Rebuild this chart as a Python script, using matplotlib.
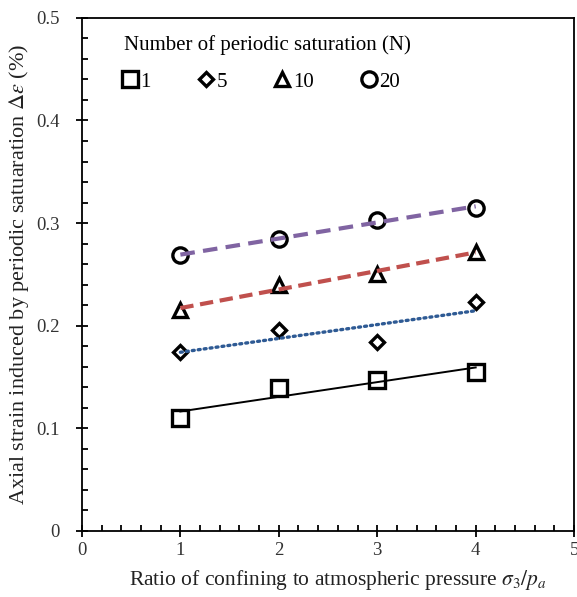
import numpy as np
import matplotlib
matplotlib.use("Agg")
import matplotlib.pyplot as plt
from matplotlib.ticker import MultipleLocator
from matplotlib.lines import Line2D

plt.rcParams['font.family'] = ['Liberation Serif', 'DejaVu Serif']
plt.rcParams['mathtext.fontset'] = 'stix'

# Confining pressure ratio sigma3/pa
pressure_ratio = [1, 2, 3, 4]

# Number of periodic saturation cycles
cycle_labels = ['1', '5', '10', '20']

# Axial strain (%) for each cycle count
strain_n1 = [0.110, 0.139, 0.147, 0.155]
strain_n5 = [0.174, 0.196, 0.184, 0.223]
strain_n10 = [0.215, 0.240, 0.250, 0.272]
strain_n20 = [0.269, 0.284, 0.303, 0.315]

series = [strain_n1, strain_n5, strain_n10, strain_n20]
markers = ['s', 'D', '^', 'o']
marker_sizes = [11, 7.5, 10, 11]
trend_styles = [
    dict(color='black', lw=1.4, ls='-'),
    dict(color='#2E5A94', lw=2.4, ls=(0, (0.6, 1.2)), dash_capstyle='round'),
    dict(color='#C0504D', lw=3.0, ls=(0, (3.2, 1.6))),
    dict(color='#8064A2', lw=3.0, ls=(0, (3.5, 2.0))),
]

fig = plt.figure(figsize=(5.77, 5.97), dpi=100)
ax = fig.add_axes([0.142, 0.111, 0.853, 0.859])

x = np.array(pressure_ratio, dtype=float)
handles = []
for vals, mk, ms, st, lab in zip(series, markers, marker_sizes, trend_styles, cycle_labels):
    y = np.array(vals)
    ax.plot(x, y, ls='none', marker=mk, ms=ms, mfc='white', mec='black',
            mew=2.4, zorder=3)
    slope, icpt = np.polyfit(x, y, 1)
    xs = np.array([x.min(), x.max()])
    ax.plot(xs, slope * xs + icpt, zorder=4, **st)
    handles.append(Line2D([], [], ls='none', marker=mk, ms=ms, mfc='white',
                          mec='black', mew=2.4, label=lab))

ax.set_xlim(0, 5)
ax.set_ylim(0, 0.5)
ax.xaxis.set_major_locator(MultipleLocator(1))
ax.xaxis.set_minor_locator(MultipleLocator(0.2))
ax.yaxis.set_major_locator(MultipleLocator(0.1))
ax.yaxis.set_minor_locator(MultipleLocator(0.02))
ax.set_yticks([0, 0.1, 0.2, 0.3, 0.4, 0.5])
ax.set_yticklabels(['0', '0.1', '0.2', '0.3', '0.4', '0.5'])

ax.tick_params(which='major', direction='inout', length=8, width=1.3,
               labelsize=13.5, colors='black', labelcolor='#333333')
ax.tick_params(which='minor', direction='in', length=4, width=1.3)
ax.tick_params(axis='x', pad=4)
ax.tick_params(axis='y', pad=12)
for sp in ax.spines.values():
    sp.set_linewidth(1.3)

ax.set_xlabel(r'Ratio of confining to atmospheric pressure $\sigma_3/p_a$',
              fontsize=15.5, color='#222222')
ax.xaxis.set_label_coords(0.52, -0.073)
ax.set_ylabel(r'Axial strain induced by periodic satuaration $\Delta\varepsilon$ (%)',
              fontsize=16, color='#222222')
ax.yaxis.set_label_coords(-0.104, 0.50)

leg = ax.legend(handles=handles, title='Number of periodic saturation (N)',
                ncol=4, loc='upper left', bbox_to_anchor=(0.06, 0.99),
                frameon=False, fontsize=15, title_fontsize=15,
                alignment='left', handlelength=0.6, handletextpad=0.2,
                columnspacing=2.35, borderaxespad=0.2)
leg._legend_box.sep = 12

fig.savefig('out.png', dpi=100)
